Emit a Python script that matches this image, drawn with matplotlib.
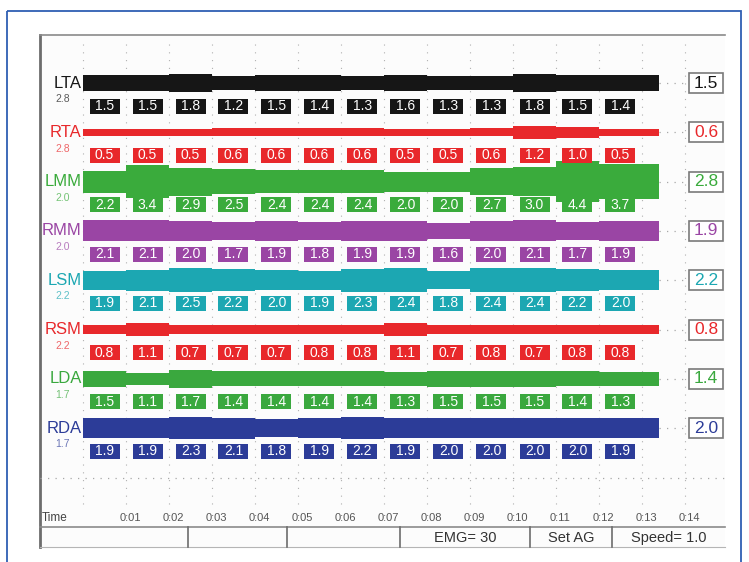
import matplotlib.pyplot as plt
from matplotlib.patches import Rectangle

plt.rcParams['font.family'] = ['Liberation Sans', 'DejaVu Sans']

# channel names, display scale and colours
channels = ["LTA", "RTA", "LMM", "RMM", "LSM", "RSM", "LDA", "RDA"]
scales = ["2.8", "2.8", "2.0", "2.0", "2.2", "2.2", "1.7", "1.7"]
colors = ["#161616", "#e8282b", "#3aab3c", "#9a45a4", "#1ca7b2", "#e8282b", "#3aa83e", "#2c3c98"]

# RMS value per 0.01 s window
lta = [1.5, 1.5, 1.8, 1.2, 1.5, 1.4, 1.3, 1.6, 1.3, 1.3, 1.8, 1.5, 1.4]
rta = [0.5, 0.5, 0.5, 0.6, 0.6, 0.6, 0.6, 0.5, 0.5, 0.6, 1.2, 1.0, 0.5]
lmm = [2.2, 3.4, 2.9, 2.5, 2.4, 2.4, 2.4, 2.0, 2.0, 2.7, 3.0, 4.4, 3.7]
rmm = [2.1, 2.1, 2.0, 1.7, 1.9, 1.8, 1.9, 1.9, 1.6, 2.0, 2.1, 1.7, 1.9]
lsm = [1.9, 2.1, 2.5, 2.2, 2.0, 1.9, 2.3, 2.4, 1.8, 2.4, 2.4, 2.2, 2.0]
rsm = [0.8, 1.1, 0.7, 0.7, 0.7, 0.8, 0.8, 1.1, 0.7, 0.8, 0.7, 0.8, 0.8]
lda = [1.5, 1.1, 1.7, 1.4, 1.4, 1.4, 1.4, 1.3, 1.5, 1.5, 1.5, 1.4, 1.3]
rda = [1.9, 1.9, 2.3, 2.1, 1.8, 1.9, 2.2, 1.9, 2.0, 2.0, 2.0, 2.0, 1.9]
rms = [lta, rta, lmm, rmm, lsm, rsm, lda, rda]

# overall value shown at the right
totals = [1.5, 0.6, 2.8, 1.9, 2.2, 0.8, 1.4, 2.0]

time_ticks = [0.01 * k for k in range(15)]
time_labels = ["", "0:01", "0:02", "0:03", "0:04", "0:05", "0:06", "0:07",
               "0:08", "0:09", "0:10", "0:11", "0:12", "0:13", "0:14"]
status_cells = ["", "", "", "EMG= 30", "Set AG", "Speed= 1.0"]
status_edges = [40, 188, 287, 400, 530, 612, 725]

W, H = 749, 562
fig = plt.figure(figsize=(W / 100, H / 100), dpi=100)
fig.patch.set_facecolor("white")

# outer blue frame and window chrome
frame = fig.add_axes([0, 0, 1, 1])
frame.set_xlim(0, W)
frame.set_ylim(H, 0)
frame.axis("off")
frame.add_patch(Rectangle((7, 11), 734, 560, fill=False, ec="#2f5fb3", lw=1.3))
frame.add_patch(Rectangle((40, 35), 685, 512, fc="#fcfcfc", ec="none"))
frame.plot([40, 40], [35, 547], color="#6d6d6d", lw=2)
frame.plot([40, 725], [35, 35], color="#8a8a8a", lw=1.2)
frame.plot([40, 725], [527, 527], color="#8a8a8a", lw=1.2)
frame.plot([40, 725], [547, 547], color="#b5b5b5", lw=0.8)
for xe in status_edges[1:-1]:
    frame.plot([xe, xe], [527, 547], color="#6d6d6d", lw=1.2)
for k, txt in enumerate(status_cells):
    mid = (status_edges[k] + status_edges[k + 1]) / 2
    frame.text(mid, 538, txt, ha="center", va="center", fontsize=10.5, color="#333333")

# main trace area
x0, x1 = 40, 725
y0, y1 = 35, 527
ax = fig.add_axes([x0 / W, 1 - y1 / H, (x1 - x0) / W, (y1 - y0) / H])
px_t = 0.01 / 43.0        # seconds per pixel
px_r = 1 / 49.3           # rows per pixel
ax.set_xlim(-43 * px_t, 642 * px_t)
ax.set_ylim(444 * px_r, -48 * px_r)
ax.axis("off")

# dotted grid
for t in time_ticks:
    ax.plot([t, t], [-0.8, 8.6], color="#b0b0b0", lw=0.8, ls=(0, (1, 6)), zorder=0)
ax.plot([-0.01, 0.149], [8.02, 8.02], color="#a8a8a8", lw=0.9, ls=(0, (1, 5)), zorder=0)

edges = [0.0] + [0.01 * k for k in range(1, 13)] + [0.134]
for i, name in enumerate(channels):
    c = colors[i]
    half = [(1.5 + 4.3 * v) * px_r for v in rms[i]]
    ax.stairs([i + h for h in half], edges, baseline=[i - h for h in half],
              fill=True, color=c, lw=0, zorder=2)
    ax.plot([0.134, 0.1405], [i, i], color="#a8a8a8", lw=0.9, ls=(0, (1, 5)), zorder=0)

    ax.text(-0.0003, i, name, ha="right", va="center", fontsize=12, color=c)
    ax.text(-0.0048, i + 0.33, scales[i], ha="center", va="center", fontsize=7.5,
            color=c, alpha=0.7)

    for k, v in enumerate(rms[i]):
        xc = 0.005 + 0.01 * k
        ax.add_patch(Rectangle((xc - 15 * px_t, i + 0.47 - 7.5 * px_r), 30 * px_t, 15 * px_r,
                               fc=c, ec="none", zorder=3))
        ax.text(xc, i + 0.47, f"{v:.1f}", ha="center", va="center", fontsize=10,
                color="white", zorder=4)

    bx = 0.1449
    ax.add_patch(Rectangle((bx - 17 * px_t, i - 10 * px_r), 34 * px_t, 20 * px_r,
                           fc="white", ec="#7a7a7a", lw=1.2, zorder=3))
    ax.text(bx, i, f"{totals[i]:.1f}", ha="center", va="center", fontsize=12.5,
            color=c, zorder=4)

ax.text(-0.0097, 8.82, "Time", ha="left", va="center", fontsize=8.5, color="#444444")
for t, lab in zip(time_ticks, time_labels):
    ax.text(t + 0.001, 8.82, lab, ha="center", va="center", fontsize=8, color="#555555")

fig.savefig("out.png", dpi=100)
